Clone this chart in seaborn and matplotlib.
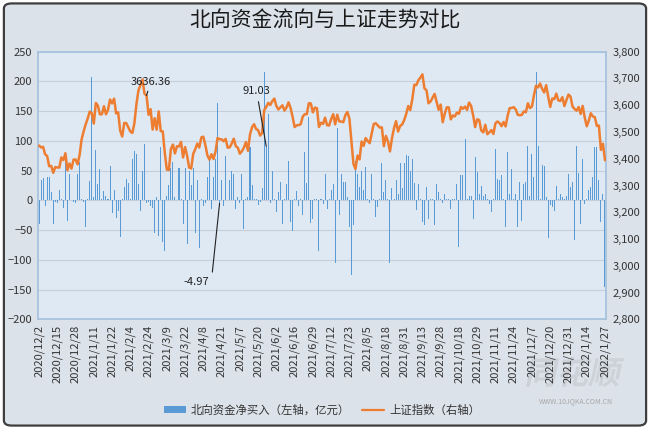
import numpy as np
import pandas as pd
import matplotlib
matplotlib.use("Agg")
import matplotlib.pyplot as plt
import seaborn as sns
from matplotlib.patches import FancyBboxPatch, PathPatch, Patch
from matplotlib.lines import Line2D
from matplotlib.ticker import FuncFormatter
from matplotlib.textpath import TextPath
from matplotlib.font_manager import FontProperties
from matplotlib.transforms import Affine2D

title = "北向资金流向与上证走势对比"
bar_label = "北向资金净买入（左轴，亿元）"
line_label = "上证指数（右轴）"
logo_text = "同花顺"
logo_url = "WWW.10JQKA.COM.CN"

tick_labels = ["2020/12/2", "2020/12/15", "2020/12/28", "2021/1/11", "2021/1/22", "2021/2/4",
               "2021/2/24", "2021/3/9", "2021/3/22", "2021/4/8", "2021/4/21", "2021/5/7",
               "2021/5/20", "2021/6/2", "2021/6/16", "2021/6/29", "2021/7/12", "2021/7/23",
               "2021/8/5", "2021/8/18", "2021/8/31", "2021/9/13", "2021/9/28", "2021/10/18",
               "2021/10/29", "2021/11/11", "2021/11/24", "2021/12/7", "2021/12/20", "2021/12/31",
               "2022/1/14", "2022/1/27"]

# northbound daily net buy (100 million yuan)
northbound = [
    -40, 35, 37, -10, 40, 39, 14, -39, -3, -4,
    18, 2, -12, 78, -35, 45, 1, -3, -5, 45,
    65, 2, -3, -45, 3, 32, 207, 5, 85, 28,
    52, 2, 15, 8, 3, 57, -22, 18, -30, -18,
    -62, 3, 22, 36, 30, 2, 70, 83, 78, 28,
    -18, 50, 95, -5, -3, -10, -12, -55, 5, -60,
    90, -70, -85, 8, 25, 55, 65, 5, 0, 55,
    2, -40, 55, -73, 50, 25, 55, -55, 35, -80,
    2, -10, -5, 40, 70, -15, 40, 70, 163, -4.97,
    35, -10, 75, 0, 35, 50, 45, -15, 5, -5,
    45, -48, 2, 5, 90, 26, 3, 2, -8, -3,
    20, 216, 91.03, 146, -5, 50, 3, -20, 14, 31,
    -39, 3, 27, 67, -36, -52, 2, 16, -10, 3,
    -24, 81, 30, 141, -38, -31, 2, 3, -85, 2,
    -6, 45, -14, 3, 17, 27, -106, 122, -25, 45,
    31, 31, 5, -45, -126, -42, 67, 45, 22, 50,
    17, 56, 2, -4, 45, 3, -28, -11, 2, 62,
    14, 34, 3, -106, 20, 3, 34, 11, 62, 20,
    62, 76, 74, 50, 70, 30, -17, 28, 3, -36,
    -42, 22, -31, 2, 3, -42, 28, 14, 2, -4,
    11, 2, 3, -14, 2, 3, 28, -78, 42, 42,
    104, 3, 8, 8, -31, 73, 48, 11, 24, 8,
    11, 2, -6, -20, 2, 87, 36, 34, 42, 3,
    -45, 81, 11, 53, 3, 11, -45, 31, -34, 28,
    31, 92, 8, 78, 39, 216, 91, 2, 59, 57,
    6, -64, -8, -11, -18, 24, 3, 11, 6, 3,
    8, 45, 22, 31, -66, 92, 46, -39, 70, -6,
    3, 17, 22, 39, 90, 90, 34, -36, 11, -146,
]

# Shanghai Composite close
sse = [
    3449.38, 3442.14, 3444.58, 3416.60, 3410.18, 3371.96, 3373.28, 3347.19, 3369.12, 3367.23,
    3366.98, 3404.87, 3394.90, 3420.57, 3356.78, 3382.32, 3363.11, 3396.56, 3397.29, 3379.04,
    3414.45, 3473.07, 3502.96, 3528.68, 3550.88, 3576.20, 3570.11, 3531.50, 3608.34, 3598.65,
    3565.90, 3566.38, 3596.22, 3566.07, 3583.09, 3621.26, 3606.75, 3624.24, 3569.43, 3573.34,
    3505.18, 3483.07, 3533.68, 3533.18, 3517.31, 3501.86, 3496.33, 3532.44, 3603.49, 3655.09,
    3675.36, 3696.17, 3642.44, 3636.36, 3564.08, 3585.05, 3509.08, 3551.40, 3508.59, 3576.90,
    3503.49, 3501.99, 3421.41, 3359.29, 3357.74, 3436.83, 3453.08, 3419.95, 3446.73, 3445.55,
    3463.07, 3404.66, 3443.44, 3411.51, 3367.06, 3363.59, 3418.33, 3435.31, 3456.68, 3441.91,
    3479.63, 3482.56, 3450.68, 3412.95, 3396.47, 3416.83, 3398.99, 3426.62, 3477.55, 3472.94,
    3472.69, 3465.11, 3474.17, 3441.17, 3442.61, 3457.07, 3474.90, 3446.86, 3441.28, 3418.87,
    3427.99, 3441.85, 3462.75, 3429.54, 3490.38, 3517.62, 3529.01, 3510.96, 3506.94, 3486.56,
    3497.28, 3581.34, 3593.36, 3608.85, 3600.78, 3615.48, 3624.71, 3597.14, 3584.22, 3591.84,
    3599.54, 3580.11, 3591.40, 3610.86, 3589.75, 3556.56, 3518.33, 3525.10, 3525.60, 3529.18,
    3557.41, 3566.65, 3566.22, 3607.56, 3606.37, 3573.18, 3591.20, 3588.78, 3518.76, 3534.32,
    3530.26, 3553.72, 3525.50, 3524.09, 3547.84, 3566.69, 3528.50, 3564.59, 3539.30, 3539.12,
    3536.79, 3562.70, 3574.73, 3550.40, 3467.44, 3381.18, 3361.59, 3411.72, 3397.36, 3464.29,
    3447.99, 3477.22, 3466.56, 3458.23, 3494.63, 3529.93, 3532.62, 3524.74, 3516.30, 3517.34,
    3446.98, 3485.29, 3465.55, 3427.33, 3477.13, 3514.47, 3540.38, 3501.66, 3522.16, 3528.15,
    3543.94, 3567.10, 3597.04, 3581.73, 3621.86, 3676.59, 3675.19, 3693.13, 3703.11, 3715.37,
    3662.60, 3656.22, 3607.09, 3613.97, 3628.49, 3642.22, 3613.07, 3582.83, 3602.22, 3536.29,
    3568.17, 3592.17, 3591.71, 3546.94, 3561.76, 3558.28, 3572.37, 3568.14, 3593.15, 3587.00,
    3594.78, 3582.60, 3609.86, 3597.64, 3562.31, 3518.42, 3547.34, 3544.48, 3505.63, 3498.54,
    3526.87, 3491.57, 3498.63, 3507.00, 3492.46, 3532.79, 3539.10, 3533.30, 3521.79, 3537.37,
    3520.71, 3560.37, 3589.09, 3589.75, 3592.70, 3584.18, 3564.09, 3562.70, 3563.89, 3576.89,
    3573.84, 3607.43, 3589.31, 3595.09, 3637.57, 3673.04, 3666.35, 3681.08, 3661.53, 3647.63,
    3675.02, 3632.36, 3593.60, 3625.13, 3622.62, 3643.34, 3618.05, 3615.97, 3630.11, 3597.00,
    3619.19, 3639.78, 3632.33, 3595.18, 3586.08, 3579.54, 3593.52, 3567.44, 3597.43, 3555.26,
    3521.26, 3541.67, 3569.91, 3558.18, 3555.06, 3522.57, 3524.11, 3433.06, 3455.67, 3394.25,
]

N = len(sse)
df = pd.DataFrame({"idx": np.arange(N), "nb": northbound, "sse": sse})

sns.set_theme(style="white")
plt.rcParams['font.family'] = ['Noto Sans CJK SC', 'DejaVu Sans']

BG = '#DCE2EA'
PLOT_BG = '#DFE9F4'
BAR_C = '#5B9BD5'
LINE_C = '#ED7D31'
TXT = '#333333'

W, H = 650, 429
fig = plt.figure(figsize=(W / 100, H / 100), dpi=100)
fig.patch.set_facecolor('white')
border = FancyBboxPatch((0.006, 0.008), 0.988, 0.984,
                        boxstyle="round,pad=0,rounding_size=0.012",
                        transform=fig.transFigure, facecolor=BG,
                        edgecolor='#3E3E3E', lw=1.6, zorder=-10)
fig.patches.append(border)

# faint logo watermark (graphic)
tp = TextPath((0, 0), logo_text, size=1,
              prop=FontProperties(family='Noto Sans CJK SC', weight='bold'))
ext = tp.get_extents()
sc = 92 / ext.width
tr = Affine2D().translate(-ext.x0, -ext.y0).scale(sc).skew_deg(12, 0).translate(526, H - 387)
fig.patches.append(PathPatch(tp, transform=tr, facecolor='#C9CDD3', edgecolor='none',
                             alpha=0.75, zorder=-5))

ax = fig.add_axes([0.0585, 0.2557, 0.8738, 0.6238])
ax.set_facecolor(PLOT_BG)
ax.set_axisbelow(True)
ax.grid(axis='y', color='#C6CFD9', lw=0.8)
ax.grid(axis='x', visible=False)

sns.barplot(data=df, x="idx", y="nb", color=BAR_C, width=0.5, native_scale=True,
            saturation=1, linewidth=0, ax=ax, zorder=2)

ax2 = ax.twinx()
sns.lineplot(data=df, x="idx", y="sse", color=LINE_C, lw=1.8, ax=ax2, legend=False, zorder=3)

ax.set_xlim(-0.5, N - 0.5)
ax.set_ylim(-200, 250)
ax2.set_ylim(2800, 3800)
ax.set_yticks(np.arange(-200, 251, 50))
ax2.set_yticks(np.arange(2800, 3801, 100))
ax2.yaxis.set_major_formatter(FuncFormatter(lambda v, p: f"{int(v):,}"))
ax.set_xticks(np.arange(0, N, 9))
ax.set_xticklabels(tick_labels, rotation=90, fontsize=7.8, color=TXT)
ax.set_xlabel("")
ax.set_ylabel("")
ax2.set_xlabel("")
ax2.set_ylabel("")
ax.tick_params(axis='both', length=0, labelsize=8, colors=TXT, pad=4)
ax2.tick_params(axis='y', length=0, labelsize=8, colors=TXT, pad=5)
for s in ax.spines.values():
    s.set_color('#A8C3DE')
    s.set_linewidth(1.3)
for s in ax2.spines.values():
    s.set_visible(False)

# annotations
ax2.annotate("3636.36", xy=(53, sse[53]), xytext=(3, 10), textcoords='offset points',
             ha='center', va='center', fontsize=8, color='#222222',
             arrowprops=dict(arrowstyle='-', color='#222222', lw=0.8, shrinkA=1, shrinkB=0))
ax2.annotate("91.03", xy=(112, northbound[112]), xycoords=ax.transData,
             xytext=(-7, 40), textcoords='offset points', ha='center', va='center',
             fontsize=8, color='#222222',
             arrowprops=dict(arrowstyle='-', color='#222222', lw=0.8, shrinkA=2, shrinkB=0))
ax2.annotate("-4.97", xy=(89, northbound[89]), xycoords=ax.transData,
             xytext=(-17, -57), textcoords='offset points', ha='center', va='center',
             fontsize=8, color='#222222',
             arrowprops=dict(arrowstyle='-', color='#222222', lw=0.8, shrinkA=2, shrinkB=0,
                             connectionstyle="angle,angleA=0,angleB=84,rad=0"))

fig.text(0.5, 0.952, title, ha='center', va='center', fontsize=15, color='#1A1A1A')

fig.text(576 / W, 1 - 401 / H, logo_url, ha='center', va='center', fontsize=5,
         color='#A8A8A8')

handles = [Patch(facecolor=BAR_C, edgecolor='none', label=bar_label),
           Line2D([0], [0], color=LINE_C, lw=1.6, label=line_label)]
fig.legend(handles=handles, loc='center', bbox_to_anchor=(0.495, 0.044), ncol=2,
           frameon=False, fontsize=8.2, handlelength=2.0, handleheight=0.55,
           columnspacing=1.0, handletextpad=0.4, labelcolor=TXT)

fig.savefig("out.png", dpi=100, facecolor=fig.get_facecolor())
